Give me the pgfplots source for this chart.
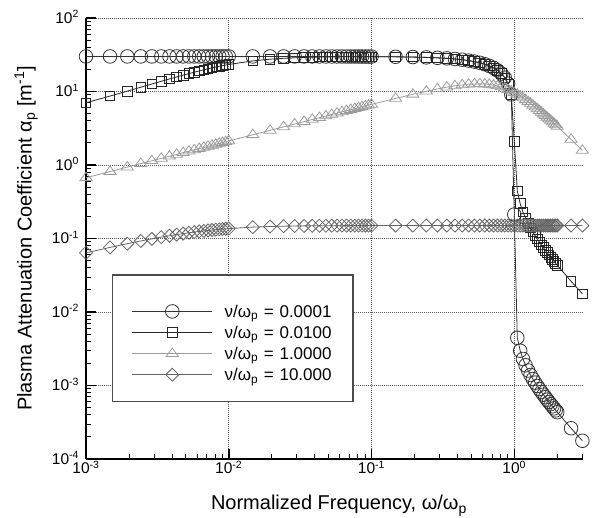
\documentclass[border=0pt]{standalone}
\usepackage{fontspec}
\setmainfont{Liberation Sans}
\usepackage{pgfplots}
\usepackage{pgfplotstable}
\pgfplotsset{compat=1.18}

\definecolor{cA}{HTML}{333333}
\definecolor{cB}{HTML}{262626}
\definecolor{cC}{HTML}{9C9C9C}
\definecolor{cD}{HTML}{646464}

\newcommand{\tp}[1]{10\textsuperscript{\fontsize{10.5}{11}\selectfont #1}}

% x = omega/omega_p ; a1..a4 = attenuation for the four collision ratios
\pgfplotstableread{
x         a1        a2      a3      a4
0.001     30        7.017   0.6708  0.06382
0.0014737 30        8.670   0.8143  0.07567
0.0019474 30        10.122  0.9361  0.08498
0.0024211 30        11.437  1.0438  0.09259
0.0028947 30        12.646  1.1413  0.09895
0.0033684 30        13.766  1.2312  0.10435
0.0038421 30        14.808  1.3149  0.10899
0.0043158 30        15.779  1.3936  0.11301
0.0047895 30        16.684  1.4681  0.11651
0.0052632 30        17.527  1.5390  0.11958
0.0057368 30        18.313  1.6067  0.12228
0.0062105 30        19.044  1.6717  0.12467
0.0066842 30        19.724  1.7343  0.12678
0.0071579 30        20.356  1.7947  0.12867
0.0076316 30        20.943  1.8532  0.13035
0.0081053 30        21.489  1.9098  0.13186
0.0085789 30        21.995  1.9648  0.13321
0.0090526 30        22.465  2.0183  0.13443
0.0095263 30        22.901  2.0705  0.13553
0.01      30        23.307  2.1213  0.13653
0.014737  30        26.086  2.5752  0.14274
0.019474  30        27.503  2.9602  0.14555
0.024211  29.99     28.290  3.3007  0.14702
0.028947  29.99     28.764  3.6092  0.14788
0.033684  29.98     29.05   3.8933  0.14841
0.038421  29.98     29.25   4.1580  0.14877
0.043158  29.97     29.39   4.4028  0.14902
0.047895  29.97     29.48   4.6371  0.14920
0.052632  29.96     29.55   4.8598  0.14933
0.057368  29.95     29.61   5.0725  0.14944
0.062105  29.94     29.65   5.2763  0.14952
0.066842  29.93     29.68   5.4722  0.14958
0.071579  29.92     29.70   5.6609  0.14964
0.076316  29.91     29.72   5.8431  0.14968
0.081053  29.90     29.73   6.0195  0.14972
0.085789  29.89     29.74   6.1904  0.14975
0.090526  29.88     29.74   6.3563  0.14977
0.095263  29.86     29.74   6.5177  0.14979
0.1       29.85     29.74   6.672   0.1498
0.14737   29.67     29.62   8.044   0.1499
0.19474   29.43     29.40   9.155   0.15
0.24211   29.11     29.10   10.073  0.15
0.28947   28.72     28.71   10.831  0.15
0.33684   28.25     28.24   11.447  0.15
0.38421   27.70     27.69   11.931  0.15
0.43158   27.06     27.05   12.292  0.15
0.47895   26.34     26.33   12.534  0.15
0.52632   25.51     25.50   12.665  0.15
0.57368   24.57     24.56   12.688  0.15
0.62105   23.51     23.50   12.613  0.15
0.66842   22.31     22.30   12.445  0.15
0.71579   20.95     20.94   12.196  0.15
0.76316   19.39     19.38   11.876  0.15
0.81053   17.57     17.56   11.497  0.15
0.85789   15.41     15.40   11.072  0.15
0.90526   12.75     12.75   10.615  0.15
0.95263   9.12      9.13    10.138  0.15
1.00      0.212     2.111   9.654   0.15
1.05      0.004462  0.4450  9.145   0.15
1.10      0.002976  0.2976  8.647   0.15
1.15      0.002297  0.2297  8.167   0.15
1.20      0.001884  0.1884  7.708   0.15
1.25      0.0016    0.16    7.275   0.15
1.30      0.001389  0.1389  6.868   0.15
1.35      0.001225  0.1225  6.486   0.15
1.40      0.001094  0.1094  6.130   0.15
1.45      0.000985  0.0985  5.798   0.15
1.50      0.000894  0.0894  5.488   0.15
1.55      0.000817  0.0817  5.201   0.15
1.60      0.000751  0.0751  4.933   0.15
1.65      0.000693  0.0693  4.683   0.15
1.70      0.000642  0.0642  4.451   0.15
1.75      0.000597  0.0597  4.234   0.15
1.80      0.000557  0.0557  4.032   0.15
1.85      0.000521  0.0521  3.844   0.15
1.90      0.000489  0.0489  3.667   0.15
1.95      0.000459  0.0459  3.502   0.15
2.00      0.000433  0.0433  3.348   0.15
2.5       0.000262  0.0262  2.227   0.15
3.0       0.000177  0.0177  1.581   0.15
}\atten

\begin{document}
\begin{tikzpicture}
\useasboundingbox (0,0) rectangle (595pt,518pt);
\begin{axis}[
    at={(86pt,59pt)}, anchor=south west,
    scale only axis, width=497pt, height=441pt,
    xmode=log, ymode=log,
    xmin=0.001, xmax=3.03, ymin=1e-4, ymax=100,
    clip=false,
    axis x line*=bottom, axis y line*=left,
    axis line style={line width=1.5pt, -},
    xtick={0.001,0.01,0.1,1},
    xticklabels={\tp{-3},\tp{-2},\tp{-1},\tp{0}},
    minor xtick={0.002,0.003,0.004,0.005,0.006,0.007,0.008,0.009,
                 0.02,0.03,0.04,0.05,0.06,0.07,0.08,0.09,
                 0.2,0.3,0.4,0.5,0.6,0.7,0.8,0.9,2,3},
    ytick={1e-4,1e-3,1e-2,1e-1,1,10,100},
    yticklabels={\tp{-4},\tp{-3},\tp{-2},\tp{-1},\tp{0},\tp{1},\tp{2}},
    minor ytick={2e-4,3e-4,4e-4,5e-4,6e-4,7e-4,8e-4,9e-4,
                 2e-3,3e-3,4e-3,5e-3,6e-3,7e-3,8e-3,9e-3,
                 0.02,0.03,0.04,0.05,0.06,0.07,0.08,0.09,
                 0.2,0.3,0.4,0.5,0.6,0.7,0.8,0.9,
                 2,3,4,5,6,7,8,9,20,30,40,50,60,70,80,90},
    tick align=inside,
    major tick length=10pt, minor tick length=5.5pt,
    major tick style={line width=1.5pt, black},
    minor tick style={line width=0.8pt, black},
    grid=major,
    major grid style={line width=0.8pt, black!65, dash pattern=on 1pt off 1pt},
    tick label style={font=\fontsize{15.5}{17}\selectfont},
    yticklabel style={xshift=-3.5pt, yshift=1pt},
    xticklabel style={yshift=1.5pt},
    label style={font=\fontsize{20}{22}\selectfont},
    xlabel={Normalized Frequency, ω/ω\textsubscript{p}},
    ylabel={Plasma Attenuation Coefficient α\textsubscript{p} [m\textsuperscript{-1}]},
    xlabel style={at={(axis description cs:0.509,-0.1156)}, anchor=base},
    ylabel style={at={(axis description cs:-0.1093,0.5)}, anchor=base},
    legend image code/.code={
        \draw[mark repeat=2, mark phase=2, #1]
            plot coordinates {(0pt,-5pt) (40pt,-5pt) (80pt,-5pt)};
    },
    legend cell align=left,
    legend style={
        at={(axis description cs:0.0529,0.4188)}, anchor=north west,
        draw=black!70, line width=1.2pt, fill=white,
        inner xsep=19pt, inner ysep=18.8pt,
        row sep=-4.3pt, column sep=12pt,
        font=\fontsize{17}{18}\selectfont,
        nodes={inner sep=0pt, text width=109.4pt, text height=23.4pt, text depth=2pt},
    },
]
\addplot[cA, line width=0.8pt, mark=o, mark size=6.8pt]
    table[x=x, y=a1] {\atten};
\addlegendentry{ν/ω\textsubscript{p} = 0.0001}
\addplot[cB, line width=0.8pt, mark=square, mark size=4.8pt]
    table[x=x, y=a2] {\atten};
\addlegendentry{ν/ω\textsubscript{p} = 0.0100}
\addplot[cC, line width=0.8pt, mark=triangle, mark size=7pt, mark options={yscale=0.8}]
    table[x=x, y=a3] {\atten};
\addlegendentry{ν/ω\textsubscript{p} = 1.0000}
\addplot[cD, line width=0.8pt, mark=square, mark size=4.6pt, mark options={rotate=45}]
    table[x=x, y=a4] {\atten};
\addlegendentry{ν/ω\textsubscript{p} = 10.000}
\end{axis}
\end{tikzpicture}
\end{document}
